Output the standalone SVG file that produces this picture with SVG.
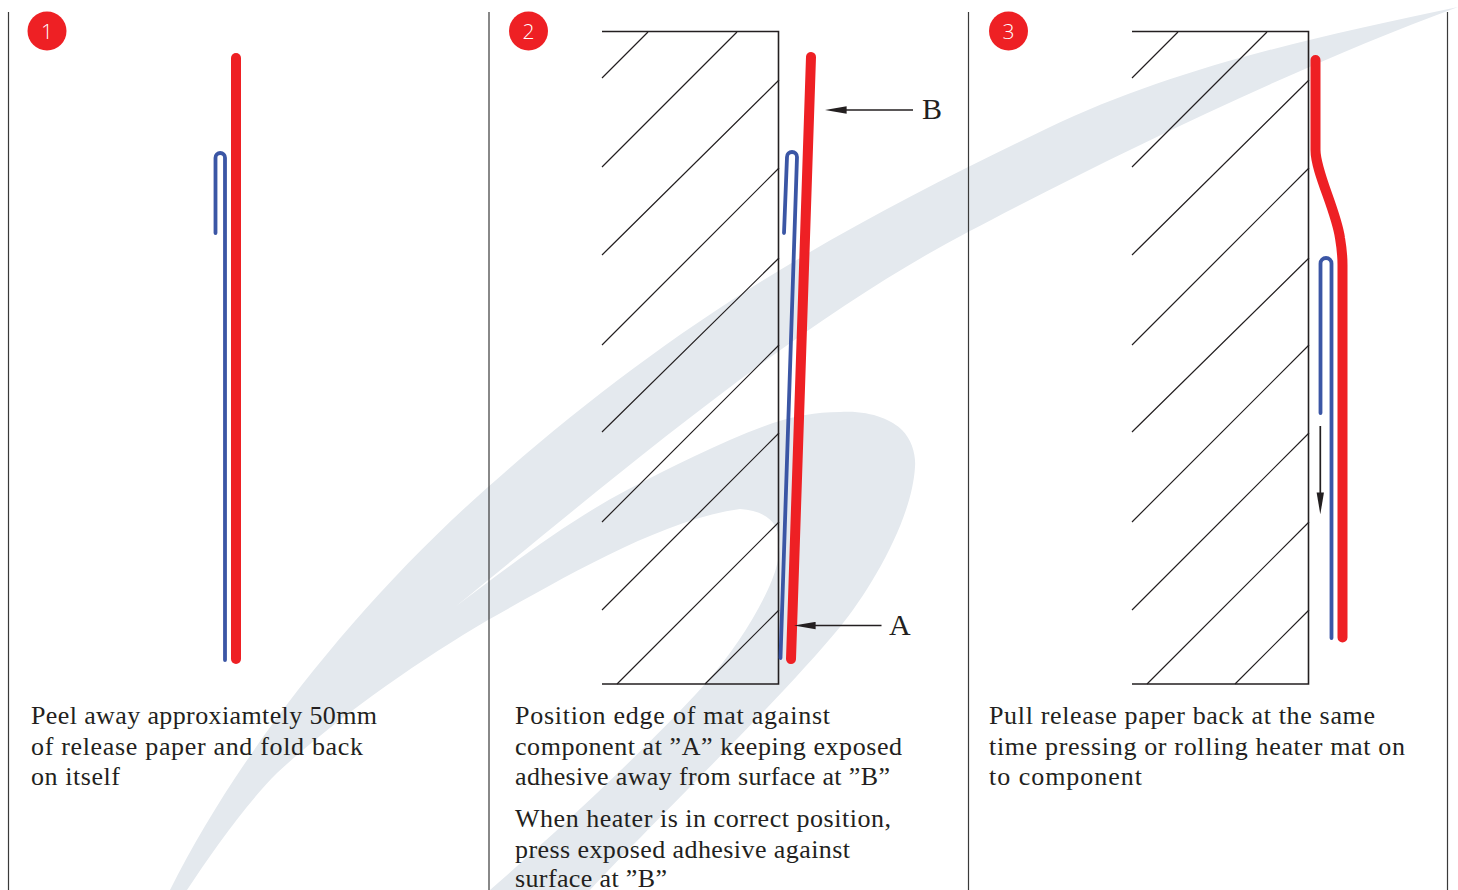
<svg xmlns="http://www.w3.org/2000/svg" width="1458" height="890" viewBox="0 0 1458 890">
<style>
.bg{fill:#e4e9ee;stroke:none}
.rule{stroke:#3a3a3a;stroke-width:1.2;fill:none}
.edge{stroke:#231f20;stroke-width:1.6;fill:none}
.hatch{stroke:#231f20;stroke-width:1.2;fill:none}
.mat{stroke:#ee2024;stroke-width:10;fill:none;stroke-linecap:round;stroke-linejoin:round}
.paper{stroke:#3b56a5;stroke-width:3.8;fill:none;stroke-linecap:round}
.arrow{stroke:#231f20;stroke-width:1.7;fill:none;marker-end:url(#head)}
.badge{fill:#ee2024}
.num{fill:#fff;font-family:"Open Sans","Liberation Sans",sans-serif;font-weight:300;font-size:21px;text-anchor:middle}
.body{fill:#231f20;font-family:"Liberation Serif",serif;font-size:26px}
.tag{fill:#231f20;font-family:"Liberation Serif",serif;font-size:30px}
</style>
<defs>
<marker id="head" markerUnits="userSpaceOnUse" markerWidth="22" markerHeight="8" viewBox="0 0 21 7" refX="13" refY="3.5" orient="auto"><path d="M0,0 L21,3.5 L0,7 Z" fill="#231f20"/></marker>
<g id="hatching">
<path class="hatch" d="M648,32 L602,78 M737,32 L602,167 M779,80 L602,255 M779,168 L602,345 M779,258 L602,432 M779,345 L602,522 M779,433 L602,610 M779,522 L617,684 M779,610 L705,684"/>
<path class="edge" d="M602,31.5 H778.5 V684 H602"/>
</g>
</defs>
<path id="swoosh" class="bg" d="M1458,7 C1300,40 1170,70 1048,128 C960,170 870,215 780,270 C680,330 580,405 488,487 C360,600 240,750 170,890 L187,890 C210,855 245,805 277,773 C340,715 420,660 488,620 C560,580 660,520 740,509 C757,510 770,516 776,527 C783,545 778,565 772,580 C760,610 735,650 705,684 C650,745 570,820 490,890 L590,890 C660,815 780,700 840,627 C870,590 912,520 915,467 C916,455 912,440 902,430 C892,420 870,410 840,412 C815,412 795,416 773,423 C725,440 675,465 627,490 C570,520 510,565 455,607 C600,490 790,325 968,232 C1110,157 1300,65 1458,7 Z"/>
<g id="rules">
<path class="rule" d="M8.5,12 V890 M489,12 V890 M968.5,12 V890 M1447.5,12 V890"/>
</g>
<g id="panel-1">
<circle class="badge" cx="47" cy="31" r="19.5"/>
<text class="num" x="47" y="39">1</text>
<path id="mat-1" class="mat" d="M236,58 V659"/>
<path id="paper-1" class="paper" d="M215.5,233 V157.75 A4.75,4.75 0 0 1 225,157.75 V660"/>
<text class="body" x="31" y="724" textLength="346">Peel away approxiamtely 50mm</text>
<text class="body" x="31" y="755" textLength="332">of release paper and fold back</text>
<text class="body" x="31" y="785" textLength="89">on itself</text>
</g>
<g id="panel-2">
<circle class="badge" cx="528.5" cy="31" r="19.5"/>
<text class="num" x="528.5" y="39">2</text>
<use id="wall-2" href="#hatching"/>
<path id="mat-2" class="mat" d="M811,57 L791,659"/>
<path id="paper-2" class="paper" d="M784,233 L787,157 A5,5 0 0 1 797,157 L780.5,658"/>
<text class="tag" x="922" y="119">B</text>
<text class="tag" x="889" y="635">A</text>
<text class="body" x="515" y="724" textLength="315">Position edge of mat against</text>
<text class="body" x="515" y="755" textLength="387">component at ”A” keeping exposed</text>
<text class="body" x="515" y="785" textLength="375">adhesive away from surface at ”B”</text>
<text class="body" x="515" y="827" textLength="376">When heater is in correct position,</text>
<text class="body" x="515" y="858" textLength="335">press exposed adhesive against</text>
<text class="body" x="515" y="887" textLength="152">surface at ”B”</text>
</g>
<g id="panel-3">
<circle class="badge" cx="1008.5" cy="31" r="19.5"/>
<text class="num" x="1008.5" y="39">3</text>
<use id="wall-3" href="#hatching" x="530"/>
<path id="mat-3" class="mat" d="M1315.5,60 V150 C1315.5,172 1336,210 1340,238 C1342,250 1342.5,255 1342.5,265 V637.5"/>
<path id="paper-3" class="paper" d="M1320.5,413 V263.5 A5.5,5.5 0 0 1 1331.5,263.5 V638"/>
<text class="body" x="989" y="724" textLength="386">Pull release paper back at the same</text>
<text class="body" x="989" y="755" textLength="416">time pressing or rolling heater mat on</text>
<text class="body" x="989" y="785" textLength="153">to component</text>
</g>
<g id="connectors">
<path class="arrow" d="M913,110 H833"/>
<path class="arrow" d="M881.5,625.5 H802"/>
<path class="arrow" d="M1320.3,426 V506"/>
</g>
</svg>
